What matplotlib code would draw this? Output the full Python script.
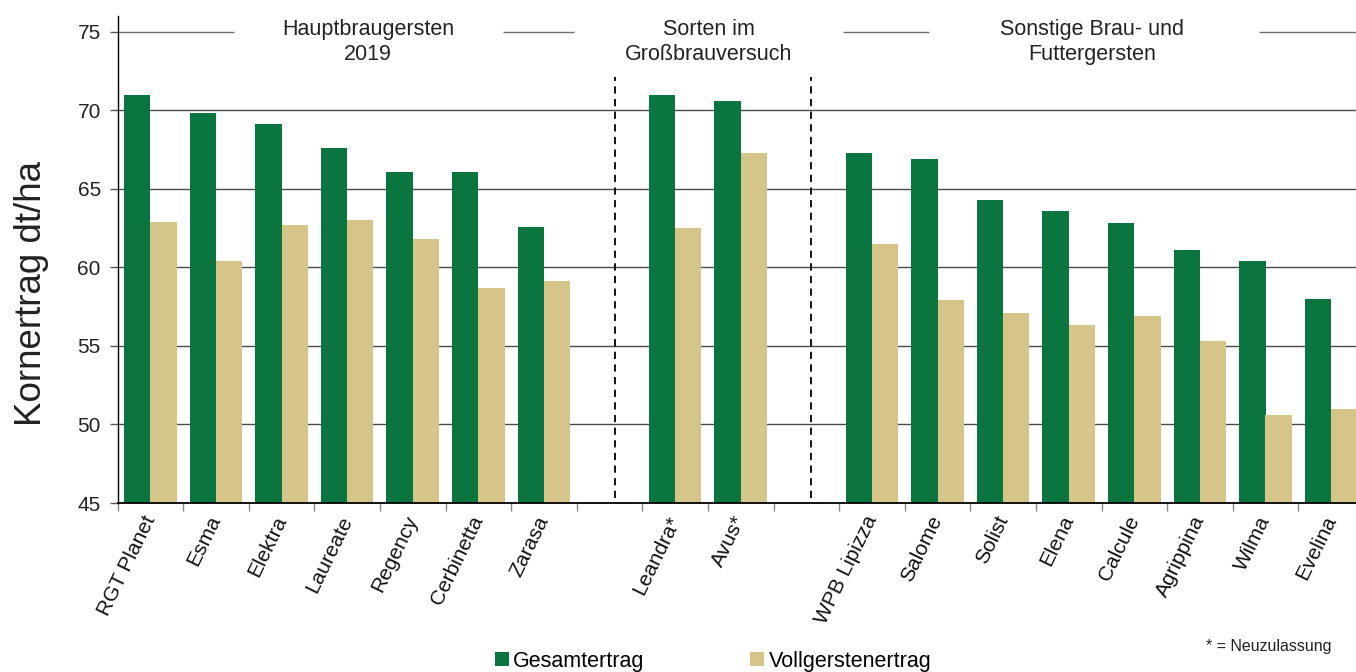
import matplotlib
matplotlib.use("Agg")
import matplotlib.pyplot as plt
from matplotlib.patches import Patch
import numpy as np

plt.rcParams['font.family'] = ['Liberation Sans', 'DejaVu Sans']

# ---- data ----
group_names = ["Hauptbraugersten\n2019", "Sorten im\nGroßbrauversuch", "Sonstige Brau- und\nFuttergersten"]
cats_g1 = ["RGT Planet", "Esma", "Elektra", "Laureate", "Regency", "Cerbinetta", "Zarasa"]
cats_g2 = ["Leandra*", "Avus*"]
cats_g3 = ["WPB Lipizza", "Salome", "Solist", "Elena", "Calcule", "Agrippina", "Wilma", "Evelina"]

gesamt_g1 = [71.0, 69.8, 69.1, 67.6, 66.1, 66.1, 62.6]
gesamt_g2 = [71.0, 70.6]
gesamt_g3 = [67.3, 66.9, 64.3, 63.6, 62.85, 61.1, 60.4, 58.0]

voll_g1 = [62.9, 60.4, 62.7, 63.0, 61.8, 58.7, 59.1]
voll_g2 = [62.5, 67.3]
voll_g3 = [61.5, 57.9, 57.1, 56.3, 56.9, 55.3, 50.6, 51.0]

series_names = ["Gesamtertrag", "Vollgerstenertrag"]
yticks = [45, 50, 55, 60, 65, 70, 75]
note = "* = Neuzulassung"
ylabel = "Kornertrag dt/ha"

# ---- layout ----
green = "#0B7540"
tan = "#D6C588"
grid_c = "#4a4a4a"

W, H = 1356, 672
fig = plt.figure(figsize=(W / 100, H / 100), dpi=100)
ax_left = 117.5 / W
ax_bottom = 1 - 503 / H
ax_top = 1 - 16 / H
ax = fig.add_axes([ax_left, ax_bottom, 1 - ax_left, ax_top - ax_bottom])

cats = cats_g1 + [""] + cats_g2 + [""] + cats_g3
n1, n2, n3 = len(cats_g1), len(cats_g2), len(cats_g3)
pos1 = np.arange(n1)
pos2 = np.arange(n2) + n1 + 1
pos3 = np.arange(n3) + n1 + n2 + 2
positions = np.concatenate([pos1, pos2, pos3])
gesamt = gesamt_g1 + gesamt_g2 + gesamt_g3
voll = voll_g1 + voll_g2 + voll_g3
labels = cats_g1 + cats_g2 + cats_g3

bw = 0.4
ax.bar(positions - bw / 2, gesamt, width=bw, color=green, zorder=3, label=series_names[0])
ax.bar(positions + bw / 2, voll, width=bw, color=tan, zorder=3, label=series_names[1])

# grid lines
for y in yticks[1:-1]:
    ax.axhline(y, color=grid_c, lw=1.0, zorder=1)
# top line interrupted by group titles
for a, b in [(-0.5, 1.27), (5.38, 6.46), (10.56, 11.87), (16.9, 19)]:
    ax.hlines(75, a, b, color="#707070", lw=1.0, zorder=1)

# group titles
title_x = [3.32, 8.51, 14.36]
for tx, name in zip(title_x, group_names):
    ax.text(tx, 74.35, name, ha="center", va="center", fontsize=15.5, color="#222222",
            linespacing=1.3, zorder=4)

# dashed separators
for sx in [7.08, 10.07]:
    ax.vlines(sx, 45.3, 72.1, colors="black", linestyles=(0, (4, 3)), lw=1.3, zorder=4)

# axes styling
for s in ["top", "right"]:
    ax.spines[s].set_visible(False)
ax.spines["left"].set_color("black")
ax.spines["bottom"].set_color("black")
ax.spines["left"].set_linewidth(1.0)
ax.spines["bottom"].set_linewidth(1.3)
ax.spines["left"].set_zorder(5)
ax.spines["bottom"].set_zorder(5)

ax.set_yticks(yticks)
ax.tick_params(axis="y", length=6, width=1, color="#555555", labelsize=15, labelcolor="#222222", pad=6)

ax.set_xticks(positions)
ax.set_xticklabels(labels, rotation=64, ha="right", va="center", rotation_mode="anchor",
                   fontsize=15, color="#111111")
ax.tick_params(axis="x", which="major", length=0, pad=10)
ax.set_xticks(np.arange(-0.5, len(cats) + 0.5, 1.0), minor=True)
ax.tick_params(axis="x", which="minor", length=6, width=1, color="#888888")

# limits (after ticks so they are not expanded)
ax.set_ylim(45, 76)
ax.set_xlim(-0.5, -0.5 + (W - 117.5) / 65.6)

ax.set_ylabel(ylabel, fontsize=26.5, color="#222222")
ax.yaxis.set_label_coords(-0.0555, 0.43)

# legend
handles = [Patch(facecolor=green, edgecolor="none"), Patch(facecolor=tan, edgecolor="none")]
fig.legend(handles, series_names, loc="center left", bbox_to_anchor=(495 / W, 1 - 661 / H),
           ncol=2, frameon=False, fontsize=15.5, handlelength=0.65, handleheight=0.65,
           handletextpad=0.2, columnspacing=4.9, borderpad=0, borderaxespad=0)

fig.text(1332 / W, 1 - 646 / H, note, ha="right", va="center", fontsize=11.5, color="#222222")

fig.savefig("out.png", dpi=100)
